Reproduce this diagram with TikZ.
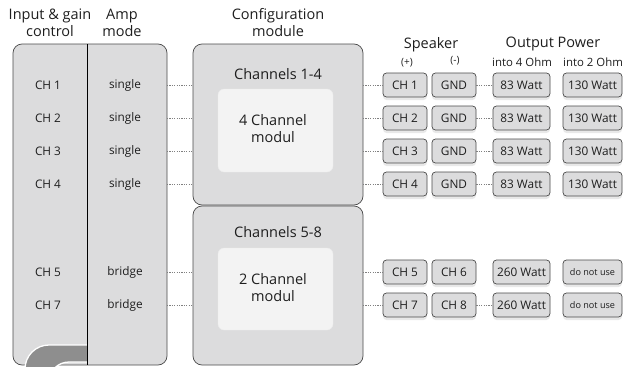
\documentclass[tikz,border=0pt]{standalone}
\usepackage{fontspec}
\setmainfont{Open Sans}
\usetikzlibrary{shadows}
\definecolor{boxfill}{HTML}{DCDCDD}
\definecolor{boxline}{HTML}{4A4A4A}
\definecolor{innerfill}{HTML}{F3F3F3}
\definecolor{txt}{HTML}{1E1E1E}
\definecolor{logo}{HTML}{8E8E8E}
\tikzset{
  bigbox/.style={draw=boxline, fill=boxfill, line width=0.7pt, rounded corners=9pt},
  innerbox/.style={fill=innerfill, draw=white!85!gray, line width=0.3pt, rounded corners=6pt},
  head/.style={font=\fontsize{14.5}{17}\selectfont, text=txt, align=center},
  sub/.style={font=\fontsize{10}{12}\selectfont, text=txt, align=center},
  rowlab/.style={font=\fontsize{11.8}{14}\selectfont, text=txt},
  modtitle/.style={font=\fontsize{14.5}{17}\selectfont, text=txt, align=center},
  modtext/.style={font=\fontsize{14.5}{17}\selectfont, text=txt, align=center},
  sbox/.style={draw=boxline, fill=boxfill, line width=0.7pt, rounded corners=3.5pt,
     minimum height=24pt, inner sep=1pt, font=\fontsize{11.8}{13}\selectfont, text=txt,
     drop shadow={shadow xshift=0pt, shadow yshift=-3pt, opacity=0.18}},
  chbox/.style={sbox, minimum width=44pt},
  wbox/.style={sbox, minimum width=57pt},
  wwbox/.style={sbox, minimum width=59pt},
  dots/.style={draw=gray, line width=0.6pt, dash pattern=on 1.2pt off 1.2pt},
}
\begin{document}
\begin{tikzpicture}[x=1pt, y=-1pt]
\useasboundingbox (0,0) rectangle (627,367);
% headers
\node[head] (hin) at (50,23) {Input \& gain\\control};
\node[head] (hamp) at (122,23) {Amp\\mode};
\node[head] (hconf) at (278,23) {Configuration\\module};
\node[head] (hspk) at (431,45) {Speaker};
\node[sub] (hplus) at (407,63) {(+)};
\node[sub] (hminus) at (455,61) {(-)};
\node[head] (hout) at (553,44) {Output Power};
\node[sub, font=\fontsize{11.4}{13}\selectfont] (h4) at (522,62) {into 4 Ohm};
\node[sub, font=\fontsize{11.4}{13}\selectfont] (h2) at (593,62) {into 2 Ohm};

% left box
\draw[bigbox] (13,44) rectangle (167,365);
\coordinate (lefteast) at (167,200);
\begin{scope}
  \clip (13,44) rectangle (87,367);
  \fill[logo, even odd rule, rounded corners=24pt] (25,420) -- (25,345) -- (140,345) -- (140,420) -- cycle
     [rounded corners=20pt] (49,420) -- (49,362) -- (140,362) -- (140,420) -- cycle;
  \draw[white, line width=1.3pt, rounded corners=24pt] (25,420) -- (25,345) -- (140,345);
  \draw[white, line width=1.3pt, rounded corners=20pt] (49,420) -- (49,362) -- (140,362);
\end{scope}
\draw[black, line width=0.7pt] (87,44) -- (87,365);

% left rows
\foreach \n/\y/\m in {1/85/single,2/118/single,3/151/single,4/184/single,5/272/bridge,7/305/bridge}{
  \node[rowlab] (in\n) at (48,\y) {CH \n};
  \node[rowlab] (amp\n) at (125,\y) {\m};
}

% configuration modules
\draw[bigbox] (193,44) rectangle (363,205);
\draw[bigbox] (193,206) rectangle (363,365);
\coordinate (confAw) at (193,124.5);
\coordinate (confAe) at (363,124.5);
\coordinate (confBw) at (193,285.5);
\coordinate (confBe) at (363,285.5);
\draw[innerbox] (218,89) rectangle (333,172);
\draw[innerbox] (218,248) rectangle (333,330);
\node[modtitle] (t1) at (278,74) {Channels 1-4};
\node[modtext] (m1) at (273,129) {4 Channel\\modul};
\node[modtitle] (t2) at (278,232) {Channels 5-8};
\node[modtext] (m2) at (273,288) {2 Channel\\modul};

% right boxes
\foreach \n/\y in {1/85,2/118,3/151,4/184}{
  \node[chbox] (sp\n) at (405,\y) {CH \n};
  \node[chbox] (gnd\n) at (454,\y) {GND};
  \node[wbox] (w4\n) at (521.5,\y) {83 Watt};
  \node[wwbox] (w2\n) at (592.5,\y) {130 Watt};
  \draw[dots] (amp\n -| lefteast) -- (amp\n -| confAw);
  \draw[dots] (sp\n -| confAe) -- (sp\n.west);
  \draw[dots] (gnd\n.east) -- (w4\n.west);
}
\node[chbox] (sp5) at (405,272) {CH 5};
\node[chbox] (sp6) at (454,272) {CH 6};
\node[wbox] (w45) at (521.5,272) {260 Watt};
\node[wwbox, font=\fontsize{9.1}{11}\selectfont] (w25) at (592.5,272) {do not use};
\node[chbox] (sp7) at (405,305) {CH 7};
\node[chbox] (sp8) at (454,305) {CH 8};
\node[wbox] (w47) at (521.5,305) {260 Watt};
\node[wwbox, font=\fontsize{9.1}{11}\selectfont] (w27) at (592.5,305) {do not use};
\foreach \n in {5,7}{
  \draw[dots] (amp\n -| lefteast) -- (amp\n -| confBw);
  \draw[dots] (sp\n -| confBe) -- (sp\n.west);
}
\draw[dots] (sp8.east) -- (w47.west);
\end{tikzpicture}
\end{document}
